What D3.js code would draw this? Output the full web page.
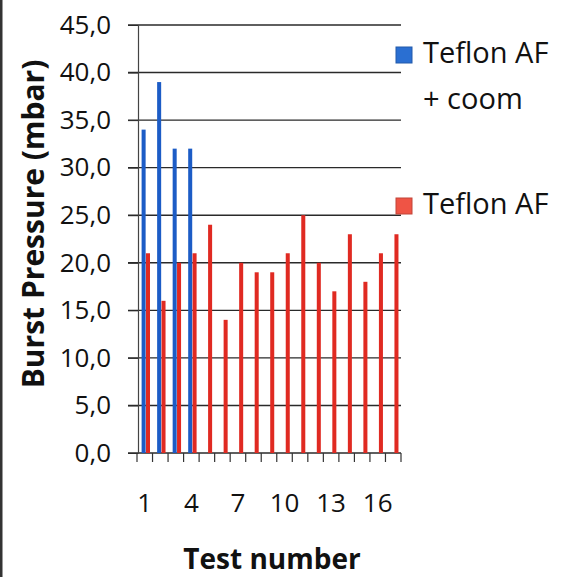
<!DOCTYPE html>
<html>
<head>
<meta charset="utf-8">
<script src="https://cdn.jsdelivr.net/npm/d3@7"></script>
<style>
  html, body { margin: 0; padding: 0; background: #ffffff; }
  svg { display: block; }
  text { font-family: "Open Sans", "DejaVu Sans", sans-serif; fill: #111; }
</style>
</head>
<body>
<svg id="chart" width="563" height="577"></svg>
<script>
// Burst pressure per test, two coatings
const tests = d3.range(1, 18);
const seriesNames = ["Teflon AF + coom", "Teflon AF"];
const coomValues = [34, 39, 32, 32];
const teflonValues = [21, 16, 20, 21, 24, 14, 20, 19, 19, 21, 25, 20, 17, 23, 18, 21, 23];
const yTicks = [0, 5, 10, 15, 20, 25, 30, 35, 40, 45];
const xTickLabels = [1, 4, 7, 10, 13, 16];
const colors = ["#1c5cc6", "#e02a22"];
const legendColors = ["#2a6fd2", "#ef5445"];

const svg = d3.select("#chart");
const plotLeft = 137, plotRight = 401, plotTop = 25, plotBottom = 453;

const x = d3.scaleBand().domain(tests).range([plotLeft, plotRight]).padding(0);
const xs = d3.scaleBand().domain(seriesNames).range([4.6, 13.0]).paddingInner(0.08);
const y = d3.scaleLinear().domain([0, 45]).range([plotBottom, plotTop]);
const fmt = v => d3.format(".1f")(v).replace(".", ",");

// left page rule
svg.append("rect").attr("x", 0).attr("y", 0).attr("width", 2.5).attr("height", 577).attr("fill", "#333");

// gridlines
svg.append("g").selectAll("line").data(yTicks).join("line")
  .attr("x1", 128).attr("x2", plotRight)
  .attr("y1", d => y(d)).attr("y2", d => y(d))
  .attr("stroke", "#2a2a2a").attr("stroke-width", 1.4);

// y axis
const yAxis = d3.axisLeft(y).tickValues(yTicks).tickFormat(fmt).tickSize(10).tickPadding(17);
const gy = svg.append("g").attr("transform", `translate(${plotLeft + 1},0)`).call(yAxis);
gy.select(".domain").attr("stroke", "#444").attr("stroke-width", 1.2);
gy.selectAll(".tick line").attr("stroke", "#2a2a2a");
gy.selectAll(".tick text").attr("font-size", 26).attr("fill", "#111")
  .style("font-family", "'Open Sans', sans-serif");

// x axis: boundary ticks between tests
const boundaries = tests.map(t => x(t)).concat([plotRight]);
svg.append("g").selectAll("line").data(boundaries).join("line")
  .attr("x1", d => d).attr("x2", d => d)
  .attr("y1", plotBottom).attr("y2", plotBottom + 9)
  .attr("stroke", "#333").attr("stroke-width", 1.2);

svg.append("g").selectAll("text").data(xTickLabels).join("text")
  .attr("x", d => x(d) + x.bandwidth() / 2)
  .attr("y", 512)
  .attr("text-anchor", "middle")
  .attr("font-size", 26)
  .text(d => d);

// bars
const rows = tests.map((t, i) => ({
  test: t,
  values: [
    { s: seriesNames[0], v: i < coomValues.length ? coomValues[i] : null, c: colors[0] },
    { s: seriesNames[1], v: teflonValues[i], c: colors[1] }
  ]
}));

const groups = svg.append("g").selectAll("g").data(rows).join("g")
  .attr("transform", d => `translate(${x(d.test)},0)`);
groups.selectAll("rect").data(d => d.values.filter(v => v.v !== null)).join("rect")
  .attr("x", d => xs(d.s))
  .attr("width", xs.bandwidth())
  .attr("y", d => y(d.v))
  .attr("height", d => y(0) - y(d.v))
  .attr("fill", d => d.c);

// axis titles
svg.append("text")
  .attr("transform", `translate(44,224) rotate(-90)`)
  .attr("text-anchor", "middle")
  .attr("font-size", 30).attr("font-weight", 700)
  .text("Burst Pressure (mbar)");

svg.append("text")
  .attr("x", 272).attr("y", 569)
  .attr("text-anchor", "middle")
  .attr("font-size", 28).attr("font-weight", 700)
  .text("Test number");

// legend
const legend = [
  { lines: ["Teflon AF", "+ coom"], c: legendColors[0], y: 47 },
  { lines: ["Teflon AF"], c: legendColors[1], y: 198 }
];
const lg = svg.append("g").selectAll("g").data(legend).join("g");
lg.append("rect")
  .attr("x", 396).attr("y", d => d.y)
  .attr("width", 16).attr("height", 16)
  .attr("fill", d => d.c)
  .attr("stroke", d => d3.color(d.c).darker(0.6)).attr("stroke-width", 1);
lg.each(function(d) {
  d3.select(this).selectAll("text").data(d.lines).join("text")
    .attr("x", 423)
    .attr("y", (t, i) => d.y + 16 + i * 46)
    .attr("font-size", 29)
    .text(t => t);
});
</script>
</body>
</html>
